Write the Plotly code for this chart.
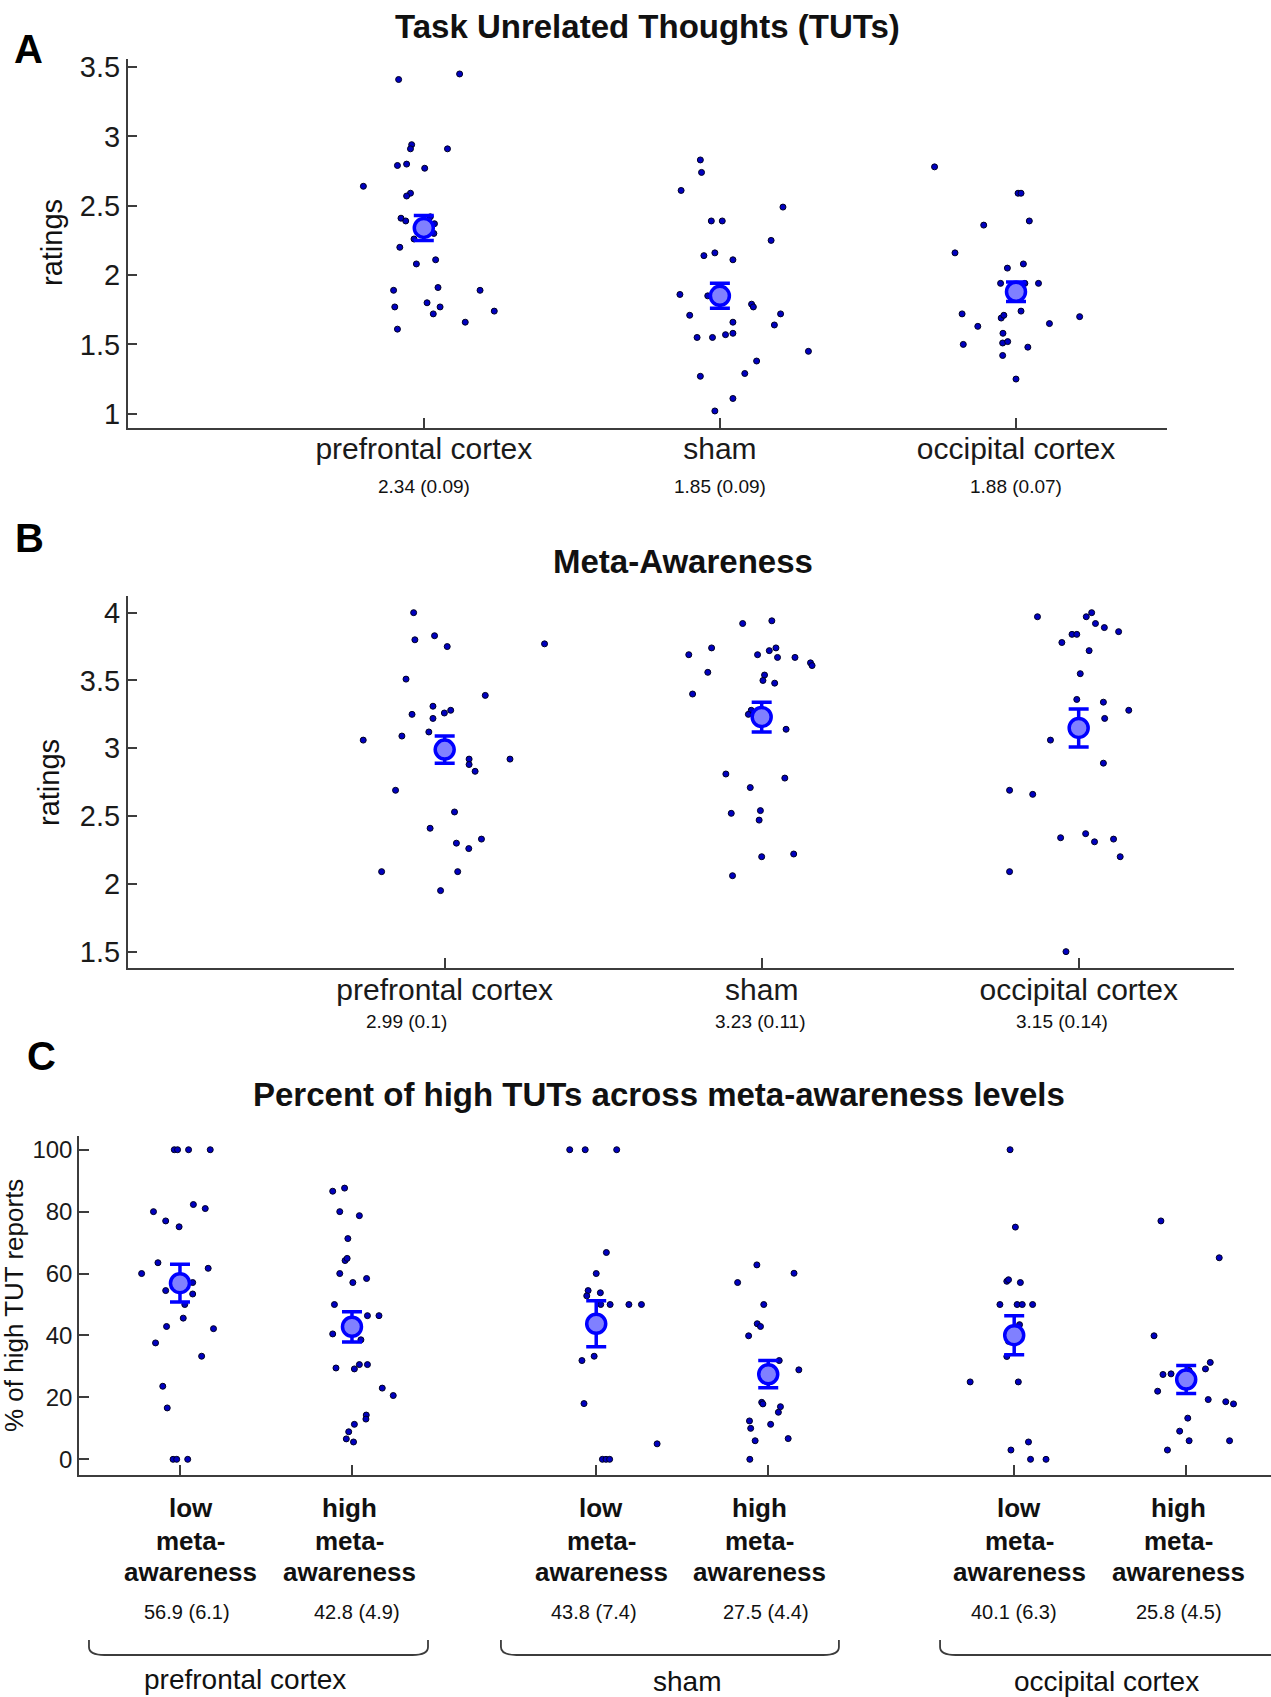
import plotly.graph_objects as go

W, H = 1271, 1697
FONT = "Arial, Liberation Sans, sans-serif"

# ---------------- data ----------------
groups_ab = ["prefrontal cortex", "sham", "occipital cortex"]

# Panel A: Task Unrelated Thoughts (ratings)
A_means = [2.34, 1.85, 1.88]
A_se = [0.09, 0.09, 0.07]
A_pfc_dx = [-0.085, 0.121, -0.041, -0.045, 0.080, -0.089, -0.058, 0.003, -0.204, -0.045, -0.058, -0.077, -0.061, 0.022, 0.036,
            0.034, -0.033, -0.081, 0.040, -0.025, -0.102, 0.048, 0.190, -0.098, 0.011, 0.055, 0.032, 0.238, 0.140, -0.089]
A_pfc_y = [3.41, 3.45, 2.94, 2.91, 2.91, 2.79, 2.80, 2.77, 2.64, 2.59, 2.57, 2.41, 2.39, 2.42, 2.37,
           2.30, 2.26, 2.20, 2.11, 2.08, 1.89, 1.91, 1.89, 1.77, 1.80, 1.77, 1.72, 1.74, 1.66, 1.61]
A_sham_dx = [-0.066, -0.062, -0.131, 0.213, -0.029, 0.008, 0.173, -0.054, -0.017, 0.044, -0.135, -0.041, 0.107, 0.113,
             -0.102, 0.205, 0.044, 0.184, -0.077, -0.025, 0.019, 0.044, 0.299, 0.124, -0.066, 0.084, 0.044, -0.017]
A_sham_y = [2.83, 2.74, 2.61, 2.49, 2.39, 2.39, 2.25, 2.14, 2.16, 2.11, 1.86, 1.85, 1.79, 1.77,
            1.71, 1.72, 1.66, 1.64, 1.55, 1.55, 1.57, 1.58, 1.45, 1.38, 1.27, 1.29, 1.11, 1.02]
A_occ_dx = [-0.275, 0.007, 0.017, -0.109, 0.045, -0.206, -0.029, 0.025, -0.052, 0.030, 0.076, -0.182, 0.017,
            -0.050, -0.041, 0.215, -0.129, 0.113, -0.044, -0.178, -0.045, -0.028, 0.040, -0.045, 0.000]
A_occ_y = [2.78, 2.59, 2.59, 2.36, 2.39, 2.16, 2.05, 2.08, 1.94, 1.94, 1.94, 1.72, 1.74,
           1.69, 1.71, 1.70, 1.63, 1.65, 1.58, 1.50, 1.51, 1.52, 1.48, 1.42, 1.25]
A_labels = ["2.34 (0.09)", "1.85 (0.09)", "1.88 (0.07)"]
A_yticks = [1, 1.5, 2, 2.5, 3, 3.5]

# Panel B: Meta-Awareness (ratings)
B_means = [2.99, 3.23, 3.15]
B_se = [0.10, 0.11, 0.14]
B_pfc_dx = [-0.098, -0.094, -0.032, 0.008, 0.315, -0.122, 0.128, -0.037, 0.019, -0.103, -0.001, -0.037, -0.050, -0.135,
            -0.257, 0.077, 0.077, 0.096, 0.206, -0.155, 0.031, -0.046, 0.037, 0.076, 0.116, -0.199, 0.041, -0.013]
B_pfc_y = [4.00, 3.80, 3.83, 3.75, 3.77, 3.51, 3.39, 3.31, 3.28, 3.25, 3.26, 3.22, 3.12, 3.09,
           3.06, 2.92, 2.88, 2.83, 2.92, 2.69, 2.53, 2.41, 2.30, 2.26, 2.33, 2.09, 2.09, 1.95]
B_sham_dx = [-0.060, 0.032, -0.230, -0.158, -0.013, 0.024, 0.045, 0.050, 0.105, 0.154, 0.159, -0.170, 0.009, 0.004,
             0.041, -0.218, -0.033, -0.042, 0.077, -0.113, 0.073, -0.036, -0.096, -0.004, -0.008, 0.000, 0.101, -0.092]
B_sham_y = [3.92, 3.94, 3.69, 3.74, 3.69, 3.72, 3.74, 3.67, 3.67, 3.63, 3.61, 3.56, 3.54, 3.50,
            3.48, 3.40, 3.28, 3.25, 3.14, 2.81, 2.78, 2.71, 2.52, 2.54, 2.47, 2.20, 2.22, 2.06]
B_occ_dx = [-0.130, 0.024, 0.041, 0.053, 0.081, 0.126, -0.021, -0.006, -0.053, 0.033, 0.005, -0.006, 0.078,
            0.158, 0.082, -0.089, 0.078, -0.218, -0.145, -0.057, 0.022, 0.050, 0.110, 0.131, -0.218, -0.040]
B_occ_y = [3.97, 3.97, 4.00, 3.92, 3.89, 3.86, 3.84, 3.84, 3.78, 3.72, 3.55, 3.36, 3.34,
           3.28, 3.22, 3.06, 2.89, 2.69, 2.66, 2.34, 2.37, 2.31, 2.33, 2.20, 2.09, 1.50]
B_labels = ["2.99 (0.1)", "3.23 (0.11)", "3.15 (0.14)"]
B_yticks = [1.5, 2, 2.5, 3, 3.5, 4]

# Panel C: Percent of high TUTs across meta-awareness levels
C_conditions = ["low", "high", "low", "high", "low", "high"]
C_means = [56.9, 42.8, 43.8, 27.5, 40.1, 25.8]
C_se = [6.1, 4.9, 7.4, 4.4, 6.3, 4.5]
C_labels = ["56.9 (6.1)", "42.8 (4.9)", "43.8 (7.4)", "27.5 (4.4)", "40.1 (6.3)", "25.8 (4.5)"]
C_dx = [
    [-0.033, -0.014, 0.050, 0.176, -0.154, 0.078, 0.147, -0.083, -0.005, -0.128, 0.164, -0.223, -0.083, 0.074, 0.074,
     0.028, 0.019, -0.078, 0.195, -0.142, 0.126, -0.100, -0.074, -0.040, -0.019, 0.045],
    [-0.112, -0.043, -0.071, 0.043, -0.024, -0.040, -0.028, -0.071, 0.005, 0.085, -0.102, 0.090, 0.157, -0.112, 0.052,
     -0.093, 0.014, 0.043, 0.090, 0.176, 0.240, 0.083, 0.081, 0.014, -0.019, -0.033, 0.009],
    [-0.154, -0.064, 0.119, 0.059, 0.000, -0.047, -0.055, 0.024, 0.026, 0.081, 0.190, 0.263, -0.083, -0.012, -0.071,
     0.354, 0.036, 0.057, 0.078],
    [-0.066, 0.150, -0.178, -0.026, -0.064, -0.045, -0.114, 0.064, 0.178, -0.038, -0.031, 0.071, 0.059, -0.109, -0.102,
     0.014, -0.076, 0.116, -0.107],
    [-0.024, 0.007, -0.043, -0.033, 0.036, -0.083, 0.017, 0.047, 0.107, 0.031, -0.033, -0.043, -0.256, 0.024, 0.083,
     -0.019, 0.095, 0.185],
    [-0.147, 0.192, -0.187, 0.140, 0.112, 0.017, -0.135, -0.088, -0.166, 0.128, 0.230, 0.275, 0.009, -0.038, 0.017,
     0.252, -0.109],
]
C_y = [
    [100, 100, 100, 100, 80, 82.3, 81, 77, 75.1, 63.5, 61.7, 60, 54.5, 57.1, 53.4, 50, 45.6, 42.9, 42.2, 37.6, 33.3,
     23.6, 16.6, 0, 0, 0],
    [86.6, 87.6, 80, 78.7, 71.3, 64.2, 64.9, 60, 57.1, 58.4, 50, 46.4, 46.4, 40.5, 38.6, 29.5, 29.2, 30.6, 30.6, 23.0,
     20.6, 14.3, 13.0, 11.3, 8.9, 6.6, 5.6],
    [100, 100, 100, 66.8, 60, 54.5, 52.8, 53.8, 50, 50, 50, 50, 31.9, 33.3, 18.0, 5.0, 0, 0, 0],
    [62.8, 60.1, 57.1, 50, 43.8, 42.9, 39.9, 31.9, 28.9, 18.4, 17.9, 17.0, 15.2, 12.4, 10.0, 11.3, 6.0, 6.7, 0],
    [100, 75, 57.5, 58, 57.1, 50, 50, 50, 50, 43.5, 38.1, 33.2, 25, 25, 5.6, 3.0, 0, 0],
    [77, 65.1, 39.9, 31.3, 29.2, 28.7, 27.4, 27.6, 22.0, 19.3, 18.6, 17.9, 13.3, 9.1, 6.0, 6.0, 3.0],
]
C_yticks = [0, 20, 40, 60, 80, 100]

# ---------------- helpers ----------------
def PX(px):
    return px / W

def PY(py):
    return 1 - py / H

AXC = "#3c3c3c"
DOT = dict(color="#0000c0", size=6, line=dict(color="#000022", width=1))
MEAN_MK = dict(color="#8080ff", size=19, line=dict(color="#0000ff", width=3.5))

fig = go.Figure()

ab_pos = [1, 2, 3]
c_pos = [1, 2, 3.42, 4.42, 5.85, 6.85]

def add_dots(xpos, dx, ys, xa, ya):
    fig.add_trace(go.Scatter(x=[xpos + d for d in dx], y=ys, mode="markers", marker=DOT,
                             xaxis=xa, yaxis=ya, showlegend=False, hoverinfo="y"))

def add_means(xs, means, se, xa, ya):
    fig.add_trace(go.Scatter(x=xs, y=means, mode="markers", marker=MEAN_MK,
                             error_y=dict(type="data", array=se, color="#0000ff", thickness=3.5, width=10),
                             xaxis=xa, yaxis=ya, showlegend=False))

for p, dx, ys in zip(ab_pos, [A_pfc_dx, A_sham_dx, A_occ_dx], [A_pfc_y, A_sham_y, A_occ_y]):
    add_dots(p, dx, ys, "x", "y")
add_means(ab_pos, A_means, A_se, "x", "y")

for p, dx, ys in zip(ab_pos, [B_pfc_dx, B_sham_dx, B_occ_dx], [B_pfc_y, B_sham_y, B_occ_y]):
    add_dots(p, dx, ys, "x2", "y2")
add_means(ab_pos, B_means, B_se, "x2", "y2")

for p, dx, ys in zip(c_pos, C_dx, C_y):
    add_dots(p, dx, ys, "x3", "y3")
add_means(c_pos, C_means, C_se, "x3", "y3")


def xax(domain, rng, tickvals, ticktext=None, anchor="y"):
    d = dict(domain=domain, range=rng, anchor=anchor, showline=True, linecolor=AXC, linewidth=1.5,
             ticks="inside", ticklen=10, tickwidth=1.5, tickcolor=AXC, showgrid=False, zeroline=False,
             tickvals=tickvals, fixedrange=True, automargin=False)
    if ticktext is None:
        d["showticklabels"] = False
    else:
        d["ticktext"] = ticktext
        d["tickfont"] = dict(family=FONT, size=30, color="#1a1a1a")
        d["ticklabelstandoff"] = -6
    return d


def yax(domain, rng, tickvals, size, anchor):
    return dict(domain=domain, range=rng, anchor=anchor, showline=True, linecolor=AXC, linewidth=1.5,
                ticks="inside", ticklen=10, tickwidth=1.5, tickcolor=AXC, showgrid=False, zeroline=False,
                tickvals=tickvals, ticktext=[f"{v:g}" for v in tickvals], automargin=False,
                tickfont=dict(family=FONT, size=size, color="#1a1a1a"), fixedrange=True)


fig.update_layout(
    width=W, height=H, margin=dict(l=0, r=0, t=0, b=0, pad=0, autoexpand=False),
    paper_bgcolor="white", plot_bgcolor="white", showlegend=False,
    xaxis=xax([PX(127.7), PX(1167)], [0, 3.51], ab_pos, groups_ab, "y"),
    yaxis=yax([PY(427.6), PY(58.7)], [0.9, 3.56], A_yticks, 29, "x"),
    xaxis2=xax([PX(127.7), PX(1234)], [0, 3.49], ab_pos, groups_ab, "y2"),
    yaxis2=yax([PY(967.9), PY(596.4)], [1.38, 4.12], B_yticks, 29, "x2"),
    xaxis3=xax([PX(79), 1.0], [0.413, 7.343], c_pos, None, "y3"),
    yaxis3=yax([PY(1474.8), PY(1136.1)], [-5, 104.4], C_yticks, 24, "x3"),
)

ann = []

def text(x, y, s, size, bold=False, xref="paper", angle=0, color="#111111"):
    ann.append(dict(x=x, y=y, xref=xref, yref="paper", text=f"<b>{s}</b>" if bold else s, showarrow=False,
                    font=dict(family=FONT, size=size, color=color), xanchor="center", yanchor="middle",
                    textangle=angle))

# titles and panel letters
text(PX(647), PY(27), "Task Unrelated Thoughts (TUTs)", 33, bold=True)
text(PX(683), PY(561), "Meta-Awareness", 33, bold=True)
text(PX(659), PY(1094.5), "Percent of high TUTs across meta-awareness levels", 33, bold=True)
text(PX(28), PY(49), "A", 40, bold=True, color="black")
text(PX(29), PY(538), "B", 40, bold=True, color="black")
text(PX(41), PY(1056), "C", 40, bold=True, color="black")

# y-axis titles
text(PX(52), PY(243), "ratings", 29, angle=-90)
text(PX(49), PY(783), "ratings", 29, angle=-90)
text(PX(14), PY(1306), "% of high TUT reports", 26, angle=-90)

# mean (SE) labels
for p, s in zip(ab_pos, A_labels):
    text(p, PY(487), s, 19, xref="x")
for xp, s in zip([406, 760, 1062], B_labels):
    text(PX(xp), PY(1021), s, 19)

# panel C category labels
low_high_x = [190.5, 349, 601, 760, 1019, 1178]
for xp, cond in zip(low_high_x, C_conditions):
    text(PX(xp), PY(1508), cond, 26, bold=True)
    text(PX(xp), PY(1540.6), "meta-", 26, bold=True)
    text(PX(xp), PY(1572), "awareness", 26, bold=True)
for xp, s in zip([187, 357, 594, 766, 1014, 1179], C_labels):
    text(PX(xp), PY(1612), s, 20)

# group labels under braces
text(PX(245), PY(1679), groups_ab[0], 28)
text(PX(687), PY(1681), groups_ab[1], 28)
text(PX(1106), PY(1681), groups_ab[2], 28)

fig.update_layout(annotations=ann)

# braces grouping the pairs (x in panel-C data units, y in paper)
brace_spans = [(0.471, 2.442), (2.866, 4.831), (5.419, 7.7)]
ytop, ymid, ybot = PY(1640), PY(1647), PY(1655)
r = 0.09
shapes = []
for x0, x1 in brace_spans:
    path = (f"M {x0},{ytop} L {x0},{ymid} Q {x0},{ybot} {x0 + r},{ybot} "
            f"L {x1 - r},{ybot} Q {x1},{ybot} {x1},{ymid} L {x1},{ytop}")
    shapes.append(dict(type="path", xref="x3", yref="paper", path=path,
                       line=dict(color=AXC, width=1.8)))
fig.update_layout(shapes=shapes)

fig.write_html("out.html", config={"displayModeBar": False},
               post_script="document.body.style.margin='0';")
